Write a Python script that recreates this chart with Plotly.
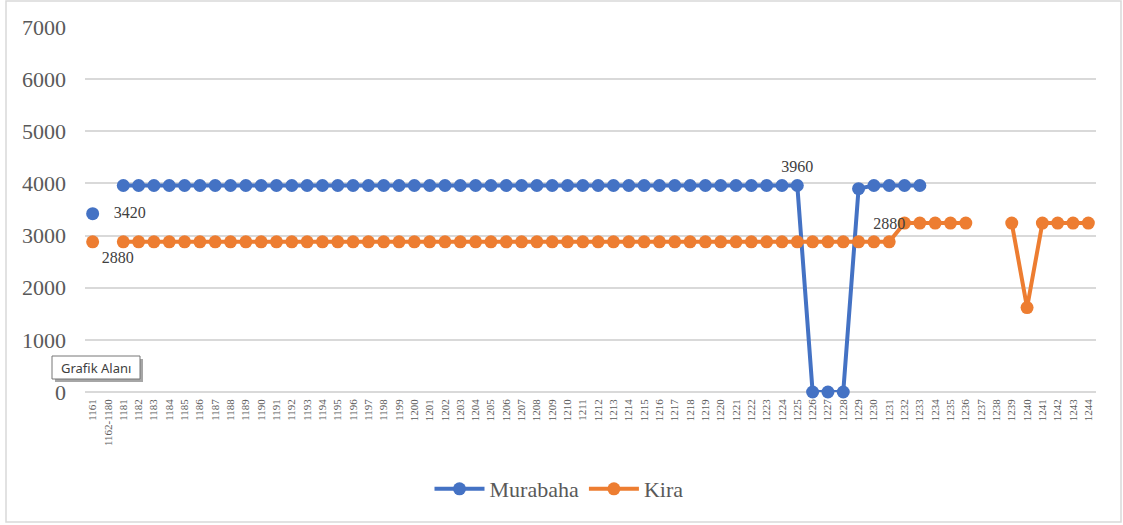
import plotly.graph_objects as go

categories = ["1161", "1162-1180",
    "1181", "1182", "1183", "1184", "1185", "1186", "1187", "1188", "1189", "1190",
    "1191", "1192", "1193", "1194", "1195", "1196", "1197", "1198", "1199", "1200",
    "1201", "1202", "1203", "1204", "1205", "1206", "1207", "1208", "1209", "1210",
    "1211", "1212", "1213", "1214", "1215", "1216", "1217", "1218", "1219", "1220",
    "1221", "1222", "1223", "1224", "1225", "1226", "1227", "1228", "1229", "1230",
    "1231", "1232", "1233", "1234", "1235", "1236", "1237", "1238", "1239", "1240",
    "1241", "1242", "1243", "1244"]

murabaha = [3420, None,
    3960, 3960, 3960, 3960, 3960, 3960, 3960, 3960, 3960, 3960,
    3960, 3960, 3960, 3960, 3960, 3960, 3960, 3960, 3960, 3960,
    3960, 3960, 3960, 3960, 3960, 3960, 3960, 3960, 3960, 3960,
    3960, 3960, 3960, 3960, 3960, 3960, 3960, 3960, 3960, 3960,
    3960, 3960, 3960, 3960, 3960, 0, 0, 0, 3900, 3960,
    3960, 3960, 3960, None, None, None, None, None, None, None,
    None, None, None, None]

kira = [2880, None,
    2880, 2880, 2880, 2880, 2880, 2880, 2880, 2880, 2880, 2880,
    2880, 2880, 2880, 2880, 2880, 2880, 2880, 2880, 2880, 2880,
    2880, 2880, 2880, 2880, 2880, 2880, 2880, 2880, 2880, 2880,
    2880, 2880, 2880, 2880, 2880, 2880, 2880, 2880, 2880, 2880,
    2880, 2880, 2880, 2880, 2880, 2880, 2880, 2880, 2880, 2880,
    2880, 3240, 3240, 3240, 3240, 3240, None, None, 3240, 1620,
    3240, 3240, 3240, 3240]

# data labels shown on the chart: category -> position
murabaha_labels = {"1161": "middle right", "1225": "top center"}
kira_labels = {"1161": "bottom right", "1231": "top center"}

BLUE = "#4472C4"
ORANGE = "#ED7D31"
SERIF = "Liberation Serif, Times New Roman, serif"
NBSP = "\u00a0"


def label_arrays(values, labels):
    texts, positions = [], []
    for c, v in zip(categories, values):
        if c in labels and v is not None:
            pad = NBSP * 3 if labels[c] == "middle right" else ""
            texts.append(pad + str(v))
            positions.append(labels[c])
        else:
            texts.append("")
            positions.append("top center")
    return texts, positions


mt, mp = label_arrays(murabaha, murabaha_labels)
kt, kp = label_arrays(kira, kira_labels)

fig = go.Figure()
fig.add_trace(go.Scatter(
    x=categories, y=murabaha, name="Murabaha", mode="lines+markers+text",
    line=dict(color=BLUE, width=4), marker=dict(color=BLUE, size=13),
    text=mt, textposition=mp, textfont=dict(family=SERIF, size=16, color="#404040"),
    connectgaps=False, cliponaxis=False,
))
fig.add_trace(go.Scatter(
    x=categories, y=kira, name="Kira", mode="lines+markers+text",
    line=dict(color=ORANGE, width=4), marker=dict(color=ORANGE, size=13),
    text=kt, textposition=kp, textfont=dict(family=SERIF, size=16, color="#404040"),
    connectgaps=False, cliponaxis=False,
))


def px_x(p):
    return (p - 85) / 1011


def px_y(p):
    return (392 - p) / 365


fig.update_layout(
    width=1123, height=525,
    margin=dict(l=85, r=27, t=27, b=133, autoexpand=False),
    paper_bgcolor="white", plot_bgcolor="white",
    showlegend=True,
    legend=dict(orientation="h", x=px_x(559), xanchor="center",
                y=px_y(489), yanchor="middle",
                font=dict(family=SERIF, size=22, color="#595959"), itemwidth=50),
    xaxis=dict(type="category", categoryorder="array", categoryarray=categories,
               tickangle=-90, tickfont=dict(family=SERIF, size=11, color="#595959"),
               showgrid=False, showline=False, zeroline=False, ticks="",
               ticklabelstandoff=4, range=[-0.5, len(categories) - 0.5]),
    yaxis=dict(range=[0, 7000], dtick=1000, tickformat="d",
               gridcolor="#D9D9D9", gridwidth=1.5, zeroline=True, zerolinecolor="#D9D9D9",
               zerolinewidth=1.5, showline=False, ticks="",
               tickfont=dict(family=SERIF, size=22, color="#595959"),
               ticklabelstandoff=18),
    shapes=[dict(type="rect", xref="paper", yref="paper",
                 x0=px_x(6), x1=px_x(1121), y0=px_y(522), y1=px_y(1),
                 line=dict(color="#D9D9D9", width=1.5), fillcolor="rgba(0,0,0,0)", layer="below"),
            dict(type="rect", xref="paper", yref="paper",
                 x0=px_x(55), x1=px_x(143), y0=px_y(382), y1=px_y(359),
                 line=dict(width=0), fillcolor="#A6A6A6", layer="above"),
            dict(type="rect", xref="paper", yref="paper",
                 x0=px_x(52), x1=px_x(140), y0=px_y(379), y1=px_y(356),
                 line=dict(color="#767676", width=1), fillcolor="white", layer="above")],
    annotations=[dict(text="Grafik Alanı", xref="paper", yref="paper",
                      x=px_x(96), y=px_y(368), showarrow=False,
                      xanchor="center", yanchor="middle",
                      font=dict(family="Noto Sans, DejaVu Sans, sans-serif", size=13, color="#404040"))],
)

fig.write_html("out.html", config={"displayModeBar": False},
               post_script="document.body.style.margin='0';")
